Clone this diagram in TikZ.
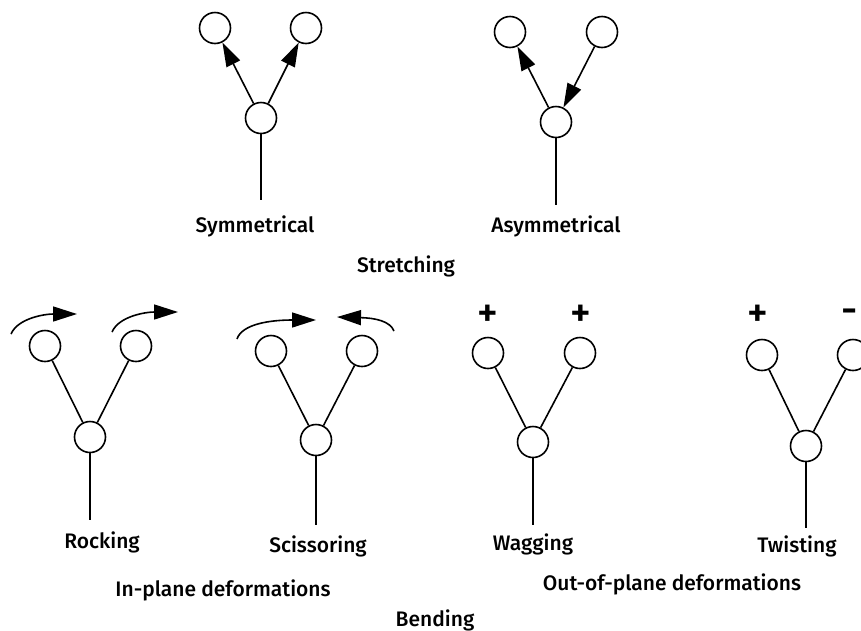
\documentclass[tikz,border=0pt]{standalone}
\usepackage{fontspec}
\setmainfont{Fira Sans Medium}
\usetikzlibrary{arrows.meta}
\begin{document}
\begin{tikzpicture}[x=1pt,y=-1pt,
  atom/.style={circle,draw,line width=1.6pt,minimum size=31pt,inner sep=0pt,fill=white},
  bond/.style={line width=1.6pt},
  arr/.style={line width=1.6pt,-{Triangle[length=24pt,width=15pt]}},
  lbl/.style={anchor=base,font=\fontsize{21}{25}\selectfont,inner sep=0pt},
  sgn/.style={font=\fontsize{40}{44}\selectfont,inner sep=0pt}]
\useasboundingbox (0,0) rectangle (861,630);
% Symmetrical
\node[atom] (sa) at (215,28) {};
\node[atom] (sb) at (306,28) {};
\node[atom] (sc) at (261,118) {};
\coordinate (sd) at (261,200);
\draw[bond] (sc) -- (sd);
\draw[arr] (sc) -- (sa);
\draw[arr] (sc) -- (sb);
\node[lbl] (sl) at (255,232) {Symmetrical};
% Asymmetrical
\node[atom] (aa) at (510,32) {};
\node[atom] (ab) at (602,32) {};
\node[atom] (ac) at (556,122) {};
\coordinate (ad) at (556,205);
\draw[bond] (ac) -- (ad);
\draw[arr] (ac) -- (aa);
\draw[arr] (ab) -- (ac);
\node[lbl] (al) at (556,232) {Asymmetrical};
\node[lbl] (st) at (406,272) {Stretching};
% Rocking
\node[atom] (ra) at (45,346) {};
\node[atom] (rb) at (136,346) {};
\node[atom] (rc) at (90,437) {};
\coordinate (rd) at (90,520);
\draw[bond] (rc) -- (rd);
\draw[bond] (rc) -- (ra);
\draw[bond] (rc) -- (rb);
\coordinate (r1s) at (11,334);
\coordinate (r1e) at (77,314);
\draw[arr] (r1s) .. controls (18,318) and (45,314) .. (r1e);
\coordinate (r2s) at (112,332);
\coordinate (r2e) at (178,312);
\draw[arr] (r2s) .. controls (119,316) and (146,312) .. (r2e);
\node[lbl] (rl) at (102,548) {Rocking};
% Scissoring
\node[atom] (la) at (271,351) {};
\node[atom] (lb) at (362,351) {};
\node[atom] (lc) at (316,440) {};
\coordinate (ld) at (316,525);
\draw[bond] (lc) -- (ld);
\draw[bond] (lc) -- (la);
\draw[bond] (lc) -- (lb);
\coordinate (l1s) at (237,339);
\coordinate (l1e) at (316,320);
\draw[arr] (l1s) .. controls (242,324) and (270,320) .. (l1e);
\coordinate (l2s) at (394,331);
\coordinate (l2e) at (337,317);
\draw[arr] (l2s) .. controls (390,321) and (375,318) .. (l2e);
\node[lbl] (ll) at (318,552) {Scissoring};
% Wagging
\node[atom] (wa) at (488,353) {};
\node[atom] (wb) at (580,353) {};
\node[atom] (wc) at (533,442) {};
\coordinate (wd) at (533,525);
\draw[bond] (wc) -- (wd);
\draw[bond] (wc) -- (wa);
\draw[bond] (wc) -- (wb);
\node[sgn] (wp1) at (488,316) {+};
\node[sgn] (wp2) at (581,316) {+};
\node[lbl] (wl) at (533,550) {Wagging};
% Twisting
\node[atom] (ta) at (762,355) {};
\node[atom] (tb) at (853,355) {};
\node[atom] (tc) at (806,446) {};
\coordinate (td) at (806,528);
\draw[bond] (tc) -- (td);
\draw[bond] (tc) -- (ta);
\draw[bond] (tc) -- (tb);
\node[sgn] (tp) at (758,316) {+};
\node[sgn] (tm) at (850,316) {-};
\node[lbl] (tl) at (797,552) {Twisting};
% group labels
\node[lbl] (ip) at (223,596) {In-plane deformations};
\node[lbl] (op) at (672,590) {Out-of-plane deformations};
\node[lbl] (be) at (435,626) {Bending};
\end{tikzpicture}
\end{document}
